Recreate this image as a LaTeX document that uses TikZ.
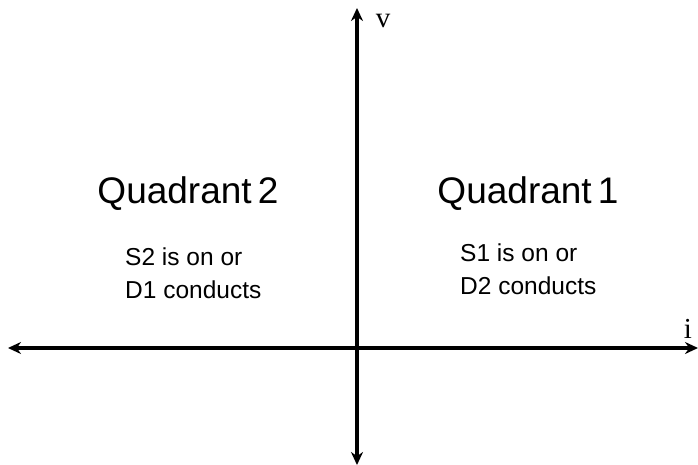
\documentclass[tikz,border=0pt]{standalone}
\usepackage{fontspec}
\setmainfont{Liberation Sans}
\newfontfamily\serifface{Liberation Serif}
\usetikzlibrary{arrows.meta}

\begin{document}
\begin{tikzpicture}[
  x=1pt, y=-1pt, >={Stealth[length=13pt,width=12pt]},
  axis/.style={->, line width=3.5pt},
  quad/.style={font=\fontsize{37}{37}\selectfont, anchor=base},
  cond/.style={font=\fontsize{24.5}{33}\selectfont, align=left, anchor=base west, inner sep=0pt},
  axlabel/.style={font=\serifface\fontsize{29}{29}\selectfont, anchor=base},
]
\useasboundingbox (0,0) rectangle (698,465);
% axes
\coordinate (o) at (357,348);
\coordinate (top) at (357,8);
\coordinate (bot) at (357,465);
\coordinate (lft) at (8,348);
\coordinate (rgt) at (698,348);
\draw[axis] (o) -- (top);
\draw[axis] (o) -- (bot);
\draw[axis] (o) -- (lft);
\draw[axis] (o) -- (rgt);
\node[axlabel] (v) at (383,28) {v};
\node[axlabel] (i) at (688,338) {i};

% quadrants
\node[quad] (q2) at (188,203) {Quadrant\,2};
\node[quad] (q1) at (528,203) {Quadrant\,1};
\node[cond] (c2) at (125,298) {S2 is on or\\D1 conducts};
\node[cond] (c1) at (460,294) {S1 is on or\\D2 conducts};
\end{tikzpicture}
\end{document}
